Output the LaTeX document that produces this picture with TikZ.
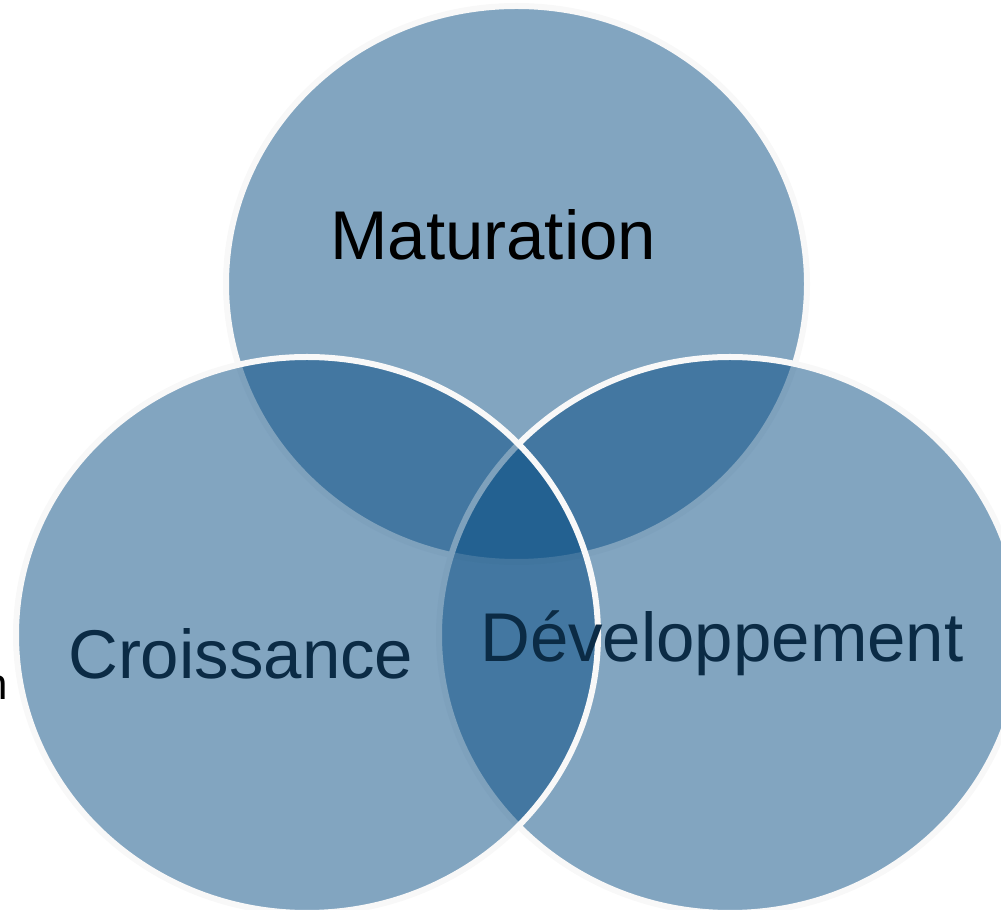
\documentclass[tikz,border=0pt]{standalone}
\usepackage{fontspec}
\setmainfont{Liberation Sans}
\definecolor{vennblue}{HTML}{054B82}
\definecolor{vennline}{HTML}{F8F8F8}
\definecolor{labeldark}{HTML}{0B2B45}
\tikzset{
  venn/.style={fill=vennblue, fill opacity=0.5, draw=vennline, draw opacity=1, line width=6pt},
  biglabel/.style={inner sep=0pt, anchor=base west, font=\fontsize{69}{69}\selectfont},
  cutlabel/.style={inner sep=0pt, font=\fontsize{44}{44}\selectfont, text=black}
}
\begin{document}
\begin{tikzpicture}[x=1pt,y=1pt]
\useasboundingbox (0,0) rectangle (1001,910);
% circles: top, right, left (drawing order matters for outlines)
\draw[venn] (516.5,626) ellipse [x radius=290.5, y radius=278];
\draw[venn] (730,275) ellipse [x radius=291, y radius=278];
\draw[venn] (307,275) ellipse [x radius=291, y radius=278];
% labels
\node[biglabel, text=black] (mat) at (330,650) {Maturation};
\node[biglabel, text=labeldark] (cro) at (68,231) {Croissance};
\node[biglabel, text=labeldark] (dev) at (480,248) {Développement};
% text fragments cut by the frame
\node[cutlabel, anchor=base east] (frag) at (8,210) {n};
\node[cutlabel, anchor=base west] (t1) at (68,920) {p};
\node[cutlabel, anchor=base west] (t2) at (131,920) {g};
\node[cutlabel, anchor=base west] (t3) at (334,920) {p};
\node[cutlabel, anchor=base west] (t4) at (462,920) {p};
\end{tikzpicture}
\end{document}
